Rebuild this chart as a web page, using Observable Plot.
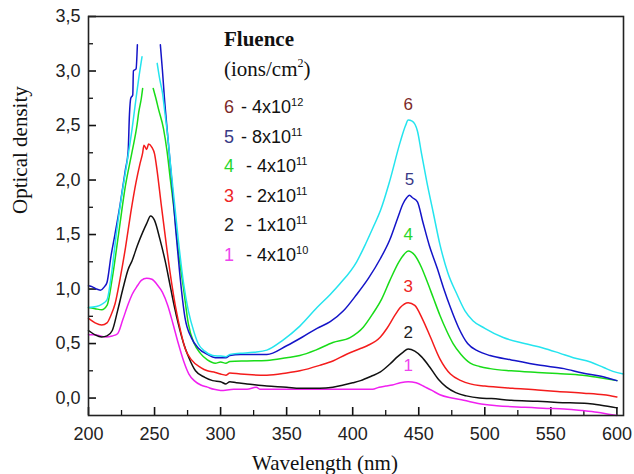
<!DOCTYPE html>
<html>
<head>
<meta charset="utf-8">
<script src="https://cdn.jsdelivr.net/npm/d3@7"></script>
<script src="https://cdn.jsdelivr.net/npm/@observablehq/plot@0.6"></script>
<style>
  html, body { margin: 0; padding: 0; background: #fff; }
  #chart svg { display: block; }
</style>
</head>
<body>
<div id="chart"></div>
<script>
// ---- Data: [wavelength (nm), optical density]; null = saturated gap ----
const curve1 = [[200,0.58],[205,0.58],[209,0.57],[213,0.56],[218,0.57],[222,0.59],[226,0.72],[230,0.86],[233,0.95],[237,1.03],[240,1.08],[244,1.10],[248,1.09],[252,1.04],[256,0.97],[260,0.85],[264,0.68],[268,0.50],[272,0.34],[276,0.22],[280,0.16],[285,0.12],[290,0.10],[295,0.08],[300,0.07],[310,0.08],[320,0.08],[327,0.10],[330,0.08],[340,0.08],[350,0.08],[360,0.08],[370,0.08],[380,0.08],[390,0.08],[400,0.08],[410,0.08],[415,0.08],[420,0.10],[425,0.11],[430,0.12],[436,0.14],[442,0.15],[448,0.14],[455,0.10],[460,0.07],[466,0.03],[475,0.00],[484,-0.02],[495,-0.05],[509,-0.07],[530,-0.085],[547,-0.095],[560,-0.10],[574,-0.115],[585,-0.13],[595,-0.15],[600,-0.16]];
const curve2 = [[200,0.62],[205,0.58],[210,0.56],[214,0.57],[218,0.62],[222,0.80],[226,1.00],[230,1.18],[233,1.26],[237,1.40],[241,1.52],[244,1.60],[247,1.67],[250,1.63],[254,1.46],[258,1.26],[262,1.02],[265,0.84],[268,0.68],[272,0.50],[276,0.37],[281,0.25],[288,0.19],[294,0.16],[300,0.15],[304,0.13],[307,0.15],[312,0.14],[320,0.13],[335,0.11],[350,0.10],[360,0.09],[375,0.09],[385,0.10],[393,0.12],[400,0.14],[406,0.16],[414,0.20],[421,0.24],[428,0.31],[434,0.38],[438,0.42],[442,0.45],[447,0.43],[452,0.38],[458,0.29],[465,0.17],[471,0.10],[478,0.05],[486,0.02],[496,0.00],[505,-0.005],[520,-0.02],[540,-0.03],[555,-0.04],[578,-0.05],[588,-0.065],[600,-0.09]];
const curve3 = [[200,0.73],[205,0.69],[210,0.67],[214,0.69],[217,0.76],[220,0.86],[224,1.10],[228,1.38],[232,1.70],[236,1.98],[239,2.15],[241,2.25],[242,2.32],[244,2.28],[245.5,2.33],[248,2.30],[250,2.24],[252,2.08],[255,1.78],[259.5,1.35],[263,1.05],[266,0.83],[270,0.60],[273,0.46],[278,0.35],[285,0.28],[290,0.25],[296,0.235],[300,0.22],[304,0.21],[307,0.23],[315,0.22],[335,0.21],[350,0.23],[360,0.25],[375,0.30],[385,0.34],[395,0.40],[405,0.45],[411,0.48],[421,0.56],[426,0.64],[432,0.76],[436,0.83],[442,0.875],[447,0.85],[453,0.72],[459,0.555],[466,0.36],[474,0.22],[482,0.16],[489,0.13],[500,0.11],[521,0.09],[540,0.075],[555,0.06],[575,0.045],[590,0.03],[600,0.01]];
const curve4 = [[200,0.83],[205,0.82],[210,0.81],[214,0.85],[218,1.10],[222.7,1.50],[228,1.95],[233,2.26],[236.8,2.51],[238,2.62],[240,2.75],[241,2.84],[244,null],[249,2.84],[251,2.75],[253,2.65],[256.8,2.47],[259.5,2.26],[262,2.00],[265,1.70],[268,1.35],[272,1.00],[275.6,0.68],[280,0.50],[284.7,0.41],[290,0.35],[296,0.32],[300,0.33],[304,0.32],[307,0.335],[320,0.34],[335,0.345],[350,0.37],[360,0.39],[372,0.44],[385,0.51],[398,0.555],[408,0.65],[415,0.77],[422,0.91],[428,1.075],[435,1.25],[439,1.32],[442,1.35],[447,1.31],[452,1.20],[456,1.08],[461,0.92],[466,0.76],[471,0.62],[476,0.50],[482,0.40],[489,0.32],[496,0.29],[504,0.27],[520,0.25],[540,0.235],[555,0.225],[574,0.21],[585,0.19],[600,0.16]];
const curve5 = [[200,1.03],[203,1.02],[206,1.00],[209,0.99],[212,1.02],[214,1.06],[217,1.30],[220,1.50],[224,1.78],[228,2.10],[230,2.26],[231,2.60],[232,2.75],[233.5,2.78],[234,3.00],[236,3.02],[237,3.24],[245,null],[254.4,3.24],[256,3.00],[257.5,2.75],[260,2.40],[263,2.00],[266,1.55],[269,1.15],[273,0.74],[278,0.55],[283,0.46],[290,0.40],[296,0.37],[300,0.37],[304,0.37],[307,0.39],[315,0.40],[335,0.40],[350,0.48],[362,0.56],[373,0.64],[383,0.70],[393,0.80],[403,0.95],[412,1.10],[421,1.28],[428,1.45],[434,1.65],[438,1.78],[441,1.84],[443,1.86],[445,1.84],[449,1.80],[453,1.62],[458,1.40],[464,1.19],[469,1.00],[474,0.83],[480,0.65],[487,0.50],[495,0.43],[504,0.39],[520,0.35],[542,0.30],[560,0.27],[574,0.23],[588,0.20],[600,0.16]];
const curve6 = [[200,0.83],[206,0.84],[210,0.86],[214,0.90],[217,1.10],[221,1.50],[225,1.85],[229,2.15],[233,2.47],[236,2.75],[238,2.93],[240.5,3.13],[245,null],[252,3.07],[254,2.92],[256,2.80],[258,2.60],[260,2.40],[262,2.15],[265,1.80],[268,1.45],[272,1.05],[275.6,0.80],[280,0.60],[283,0.50],[288,0.43],[294,0.39],[300,0.385],[304,0.38],[307,0.40],[315,0.41],[325,0.42],[335,0.44],[347,0.53],[360,0.66],[373,0.83],[383,0.95],[390.5,1.05],[403,1.25],[410,1.42],[416,1.58],[421,1.72],[428,1.99],[436,2.35],[440,2.50],[442,2.55],[445,2.54],[449,2.45],[452,2.25],[456,1.99],[461,1.70],[466,1.41],[472,1.15],[479,0.95],[485,0.80],[491,0.71],[500,0.64],[514,0.555],[530,0.50],[544,0.46],[557,0.41],[567,0.37],[580,0.33],[590,0.28],[597,0.245],[605,0.22]];

const seriesIds = ["1", "2", "3", "4", "5", "6"];
const seriesData = [curve1, curve2, curve3, curve4, curve5, curve6];

const legendNumbers = ["6", "5", "4", "3", "2", "1"];
const legendMantissa = ["4x10", "8x10", "4x10", "2x10", "1x10", "4x10"];
const legendExponent = ["12", "11", "11", "11", "11", "10"];

const xTicks = [200, 250, 300, 350, 400, 450, 500, 550, 600];
const xMinorTicks = [225, 275, 325, 375, 425, 475, 525, 575];
const yTicks = [0, 0.5, 1.0, 1.5, 2.0, 2.5, 3.0, 3.5];
const yMinorTicks = [0.25, 0.75, 1.25, 1.75, 2.25, 2.75, 3.25];

// ---- Styles / layout ----
const lineColor = {"1": "#f020f0", "2": "#111111", "3": "#f41c1c", "4": "#18dc18", "5": "#1414c8", "6": "#24e4ee"};
const labelColor = {"1": "#ee44ee", "2": "#222222", "3": "#ee2626", "4": "#2ad62a", "5": "#3a3a86", "6": "#7c2a2a"};
const sans = "'Liberation Sans', Arial, Helvetica, sans-serif";
const serif = "'Liberation Serif', 'Times New Roman', Times, serif";
const W = 634, H = 474, mL = 88, mR = 11, mT = 16, mB = 59;
const frameW = W - mL - mR, frameH = H - mT - mB;

const rows = seriesData.map((arr, i) => arr.map(([wl, od]) => ({s: seriesIds[i], wl, od})));

// peak label positions: maximum of each curve within the 430-460 nm band
const peaks = rows.map((r, i) => {
  const band = r.filter(d => d.wl >= 430 && d.wl <= 460 && d.od != null);
  const top = d3.greatest(band, d => d.od);
  return {s: seriesIds[i], wl: top.wl, od: top.od};
});

const commaFmt = d => d.toFixed(1).replace(".", ",");
const tickStyle = {stroke: "#111", strokeWidth: 1.6};

const marks = [
  // inward tick marks (rules inset to a short length at the frame edge)
  Plot.ruleX(xTicks, {insetTop: frameH - 8, ...tickStyle}),
  Plot.ruleX(xMinorTicks, {insetTop: frameH - 5, ...tickStyle, strokeWidth: 1.3}),
  Plot.ruleY(yTicks, {insetRight: frameW - 8, ...tickStyle}),
  Plot.ruleY(yMinorTicks, {insetRight: frameW - 5, ...tickStyle, strokeWidth: 1.3}),
  // tick labels
  Plot.axisX(xTicks, {tickSize: 0, tickPadding: 12, fontSize: 18, fontFamily: sans, fill: "#222", label: null, tickFormat: d => String(d)}),
  Plot.axisY(yTicks, {tickSize: 0, tickPadding: 8, fontSize: 18, fontFamily: sans, fill: "#222", label: null, tickFormat: commaFmt}),
  ...rows.map((r, i) => Plot.line(r, {x: "wl", y: "od", stroke: lineColor[seriesIds[i]], strokeWidth: 1.5, curve: "monotone-x"})),
  ...peaks.map(p => Plot.text([p], {x: "wl", y: "od", text: "s", dy: -16, fill: labelColor[p.s], fontSize: 17, fontFamily: sans})),
  Plot.frame({stroke: "#222", strokeWidth: 1.6}),
  Plot.text(["Optical density"], {frameAnchor: "left", rotate: -90, dx: -68, dy: -2, fontSize: 21, fontFamily: serif, fill: "#111"}),
  Plot.text(["Wavelength (nm)"], {frameAnchor: "bottom", lineAnchor: "bottom", dx: -31, dy: 54, fontSize: 21, fontFamily: serif, fill: "#111"})
];

const svg = Plot.plot({
  width: W,
  height: H,
  marginLeft: mL,
  marginRight: mR,
  marginTop: mT,
  marginBottom: mB,
  x: {domain: [200, 605], label: null},
  y: {domain: [-0.16, 3.5], label: null},
  style: {background: "#fff", fontFamily: sans, overflow: "visible"},
  marks
});
document.getElementById("chart").append(svg);

// ---- In-plot legend (text block) ----
const lg = d3.select(svg).append("g").attr("class", "fluence-legend").attr("text-anchor", "start");
lg.append("text").attr("x", 224).attr("y", 46)
  .attr("font-family", serif).attr("font-size", 21).attr("font-weight", "bold").attr("fill", "#111")
  .text("Fluence");
const unit = lg.append("text").attr("x", 224).attr("y", 76)
  .attr("font-family", serif).attr("font-size", 21).attr("fill", "#111");
unit.append("tspan").text("(ions/cm");
unit.append("tspan").attr("dy", -9).attr("font-size", 12).text("2");
unit.append("tspan").attr("dy", 9).text(")");

legendNumbers.forEach((n, i) => {
  const t = lg.append("text").attr("y", 113 + i * 29.6)
    .attr("font-family", sans).attr("font-size", 18).attr("fill", "#111");
  t.append("tspan").attr("x", 224).attr("fill", labelColor[n]).text(n);
  t.append("tspan").attr("x", i < 2 ? 241 : 246).text("- " + legendMantissa[i]);
  t.append("tspan").attr("dy", -7).attr("font-size", 11).text(legendExponent[i]);
});
</script>
</body>
</html>
